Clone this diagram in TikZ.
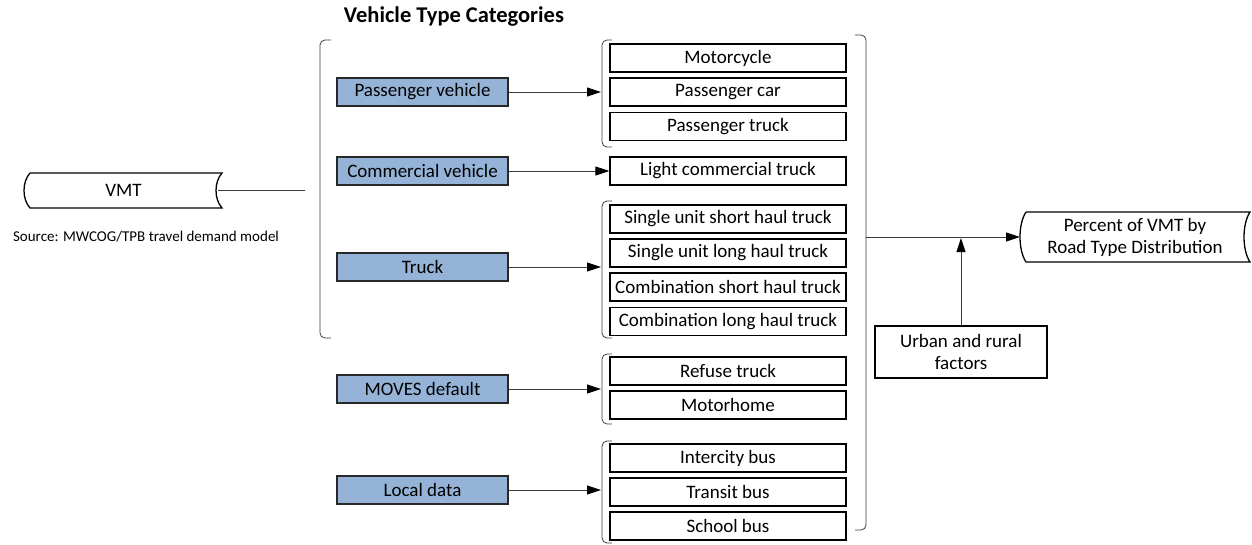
\documentclass[tikz,border=0pt]{standalone}
\usepackage{fontspec}
\setmainfont{Carlito}
\usetikzlibrary{arrows.meta}
\definecolor{catblue}{RGB}{149,179,215}
\definecolor{edge}{RGB}{40,40,40}
\definecolor{conn}{RGB}{60,60,60}
\begin{document}
\begin{tikzpicture}[x=1pt,y=-1pt,
  font=\fontsize{19}{22}\selectfont,
  catbox/.style={draw=edge,line width=1.3pt,fill=catblue,minimum width=171pt,minimum height=28pt,inner sep=0pt},
  typebox/.style={draw=black,line width=1.3pt,fill=white,minimum width=236pt,minimum height=28pt,inner sep=0pt},
  plainbox/.style={draw=none,inner sep=0pt,align=center},
  brk/.style={draw=conn,line width=0.8pt,rounded corners=5pt},
  conline/.style={draw=conn,line width=0.9pt},
  arr/.style={conline,-{Triangle[length=14pt,width=9pt,fill=black,color=black]}},
  shapeline/.style={draw=black,line width=1.3pt}]
\useasboundingbox (0,0) rectangle (1252,544);

% title
\node[font=\fontsize{22.5}{26}\selectfont\bfseries] (title) at (454,17) {Vehicle Type Categories};

% VMT stored data shape
\node[plainbox,minimum width=197pt,minimum height=35pt] (vmt) at (123.5,190.5) {VMT};
\draw[shapeline] (30,173) -- (222,173) .. controls (214,182) and (214,199) .. (222,208) -- (30,208) .. controls (22,199) and (22,182) .. (30,173);
\node[font=\fontsize{15}{18}\selectfont] (src) at (146,237) {Source: MWCOG/TPB travel demand model};
\coordinate (vmtend) at (305,190);
\draw[conline] (218,190) -- (vmtend);

% big brackets
\draw[brk] (331,40) -- (320,40) -- (320,338) -- (331,338);
\draw[brk] (855,35) -- (866,35) -- (866,530) -- (855,530);

% category boxes
\node[catbox] (pv) at (422.5,92) {Passenger vehicle};
\node[catbox] (cv) at (422.5,171) {Commercial vehicle};
\node[catbox] (tr) at (422.5,267) {Truck};
\node[catbox] (md) at (422.5,389) {MOVES default};
\node[catbox] (ld) at (422.5,490) {Local data};

% type boxes
\node[typebox] (mc) at (728,58) {Motorcycle};
\node[typebox] (pc) at (728,92) {Passenger car};
\node[typebox] (pt) at (728,126.5) {Passenger truck};
\node[typebox] (lct) at (728,171) {Light commercial truck};
\node[typebox] (sus) at (728,219) {Single unit short haul truck};
\node[typebox] (sul) at (728,253) {Single unit long haul truck};
\node[typebox] (cs) at (728,287) {Combination short haul truck};
\node[typebox] (cl) at (728,321.5) {Combination long haul truck};
\node[typebox] (rt) at (728,371) {Refuse truck};
\node[typebox] (mh) at (728,405) {Motorhome};
\node[typebox] (ib) at (728,458) {Intercity bus};
\node[typebox] (tb) at (728,492) {Transit bus};
\node[typebox] (sb) at (728,526) {School bus};

% small group brackets
\draw[brk] (612,40) -- (602,40) -- (602,147) -- (612,147);
\draw[brk] (612,201) -- (602,201) -- (602,338) -- (612,338);
\draw[brk] (612,354) -- (602,354) -- (602,424) -- (612,424);
\draw[brk] (612,441) -- (602,441) -- (602,543) -- (612,543);
\coordinate (gpv) at (601,92);
\coordinate (gtr) at (601,267);
\coordinate (gmd) at (601,389);
\coordinate (gld) at (601,490);

% arrows
\draw[arr] (pv.east) -- (gpv);
\draw[arr] (cv.east) -- (lct.west);
\draw[arr] (tr.east) -- (gtr);
\draw[arr] (md.east) -- (gmd);
\draw[arr] (ld.east) -- (gld);

% output
\node[plainbox,minimum width=230pt,minimum height=51pt] (pct) at (1135,237) {Percent of VMT by\\Road Type Distribution};
\draw[shapeline] (1026,212) -- (1250,212) .. controls (1242,224) and (1242,250) .. (1250,262) -- (1026,262) .. controls (1018,250) and (1018,224) .. (1026,212);
\coordinate (bstart) at (866,237);
\coordinate (pin) at (1020,237);
\draw[arr] (bstart) -- (pin);

\node[draw=black,line width=1.3pt,minimum width=172pt,minimum height=52pt,align=center,inner sep=0pt] (urf) at (961,352) {Urban and rural\\factors};
\coordinate (join) at (961,238);
\draw[arr] (urf.north) -- (join);
\end{tikzpicture}
\end{document}
